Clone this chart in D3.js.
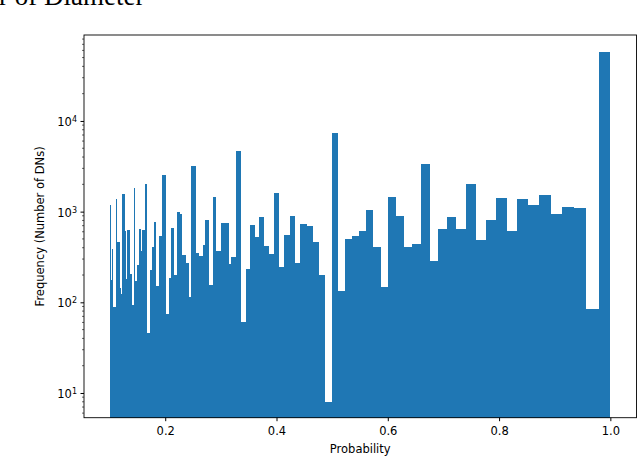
<!DOCTYPE html>
<html>
<head>
<meta charset="utf-8">
<script src="https://cdn.jsdelivr.net/npm/d3@7/dist/d3.min.js"></script>
<style>
  body { margin: 0; background: #fff; }
  svg { display: block; }
  .lbl { font-family: "DejaVu Sans", sans-serif; }
  .title { font-family: "Liberation Serif", "Times New Roman", serif; }
</style>
</head>
<body>
<svg id="chart" width="638" height="456"></svg>
<script>
// Bin edges (probability) - bins are not uniform, narrow at low probabilities
const binEdges = [
  0.100, 0.102, 0.105, 0.107, 0.111, 0.113, 0.114, 0.118, 0.120, 0.123,
  0.127, 0.129, 0.132, 0.136, 0.140, 0.143, 0.145, 0.149, 0.152, 0.156,
  0.159, 0.163, 0.167, 0.172, 0.176, 0.179, 0.183, 0.188, 0.195, 0.201,
  0.206, 0.210, 0.215, 0.222, 0.226, 0.231, 0.237, 0.242, 0.247, 0.255,
  0.260, 0.267, 0.271, 0.278, 0.285, 0.292, 0.300, 0.307, 0.314, 0.319,
  0.328, 0.336, 0.345, 0.352, 0.361, 0.368, 0.377, 0.386, 0.395, 0.404,
  0.413, 0.424, 0.434, 0.443, 0.454, 0.465, 0.476, 0.488, 0.499, 0.510,
  0.523, 0.535, 0.548, 0.560, 0.573, 0.587, 0.600, 0.614, 0.629, 0.643,
  0.659, 0.675, 0.690, 0.706, 0.722, 0.740, 0.758, 0.776, 0.794, 0.814,
  0.832, 0.852, 0.871, 0.893, 0.913, 0.934, 0.956, 0.979, 1.000
];

// Frequency (number of DNs) in each bin
const counts = [
  1183, 176, 387, 89, 1380, 115, 463, 144, 124, 1566,
  612, 181, 628, 205, 93, 1824, 172, 258, 644, 368,
  628, 2018, 46, 227, 408, 769, 151, 539, 2537, 74,
  185, 661, 200, 991, 942, 333, 272, 115, 3190, 350,
  324, 429, 809, 155, 1452, 368, 750, 750, 265, 316,
  4667, 61, 233, 713, 525, 873, 418, 341, 1607, 245,
  553, 895, 272, 731, 695, 463, 200, 8, 7377, 133,
  499, 539, 612, 1043, 408, 148, 1452, 895, 408, 440,
  3357, 286, 644, 873, 644, 2018, 487, 809, 1416, 612,
  1380, 1183, 1527, 942, 1125, 1097, 84, 57680
];

const xTicks = [0.2, 0.4, 0.6, 0.8, 1.0];
const yTicks = [10, 100, 1000, 10000];

const margin = { left: 84, right: 636.5, top: 35, bottom: 417.7 };
const fontSize = 11.5;

const svg = d3.select('#chart');

const x = d3.scaleLinear()
  .domain([0.054, 1.047])
  .range([margin.left, margin.right]);

const y = d3.scaleLog()
  .domain([5.34, 88700])
  .range([margin.bottom, margin.top]);

// bars
const bins = counts.map((c, i) => ({ x0: binEdges[i], x1: binEdges[i + 1], n: c }));

svg.append('g')
  .attr('shape-rendering', 'crispEdges')
  .selectAll('rect')
  .data(bins)
  .enter().append('rect')
    .attr('x', d => x(d.x0))
    .attr('width', d => x(d.x1) - x(d.x0))
    .attr('y', d => y(d.n))
    .attr('height', d => margin.bottom - y(d.n))
    .attr('fill', '#1f77b4');

// x axis
const xAxis = svg.append('g')
  .attr('class', 'lbl')
  .attr('transform', 'translate(0,' + margin.bottom + ')')
  .call(d3.axisBottom(x).tickValues(xTicks).tickFormat(d3.format('.1f')).tickSize(3.5).tickSizeOuter(0));
xAxis.select('.domain').remove();
xAxis.selectAll('text').attr('font-size', fontSize).attr('fill', '#000').attr('dy', '0.95em').attr('y', 6);

// y axis (major)
const yAxis = svg.append('g')
  .attr('class', 'lbl')
  .attr('transform', 'translate(' + margin.left + ',0)')
  .call(d3.axisLeft(y).tickValues(yTicks).tickFormat('').tickSize(3.5).tickSizeOuter(0));
yAxis.select('.domain').remove();

yAxis.selectAll('.tick').each(function (d) {
  const t = d3.select(this).append('text')
    .attr('x', -7)
    .attr('dy', '0.4em')
    .attr('text-anchor', 'end')
    .attr('fill', '#000')
    .attr('font-size', fontSize);
  t.append('tspan').text('10');
  t.append('tspan').attr('dy', '-0.5em').attr('font-size', 8).text(Math.round(Math.log10(d)));
});

// y minor ticks
const minor = [];
for (let e = 0; e <= 4; e++)
  for (let m = 2; m <= 9; m++) {
    const v = m * Math.pow(10, e);
    if (v > y.domain()[0] && v < y.domain()[1]) minor.push(v);
  }
svg.append('g')
  .selectAll('line')
  .data(minor)
  .enter().append('line')
    .attr('x1', margin.left - 2)
    .attr('x2', margin.left)
    .attr('y1', d => y(d))
    .attr('y2', d => y(d))
    .attr('stroke', '#000')
    .attr('stroke-width', 0.6);

// frame
svg.append('rect')
  .attr('x', margin.left)
  .attr('y', margin.top)
  .attr('width', margin.right - margin.left)
  .attr('height', margin.bottom - margin.top)
  .attr('fill', 'none')
  .attr('stroke', '#000')
  .attr('stroke-width', 0.9);

// labels
svg.append('text')
  .attr('class', 'lbl')
  .attr('x', (margin.left + margin.right) / 2)
  .attr('y', 453)
  .attr('text-anchor', 'middle')
  .attr('font-size', fontSize)
  .text('Probability');

svg.append('text')
  .attr('class', 'lbl')
  .attr('transform', 'translate(44,' + ((margin.top + margin.bottom) / 2) + ') rotate(-90)')
  .attr('text-anchor', 'middle')
  .attr('font-size', fontSize)
  .text('Frequency (Number of DNs)');

// title, clipped by the top of the picture as in the source
svg.append('text')
  .attr('class', 'title')
  .attr('x', -1)
  .attr('y', 5)
  .attr('font-size', 27)
  .text('r of Diameter');
</script>
</body>
</html>
